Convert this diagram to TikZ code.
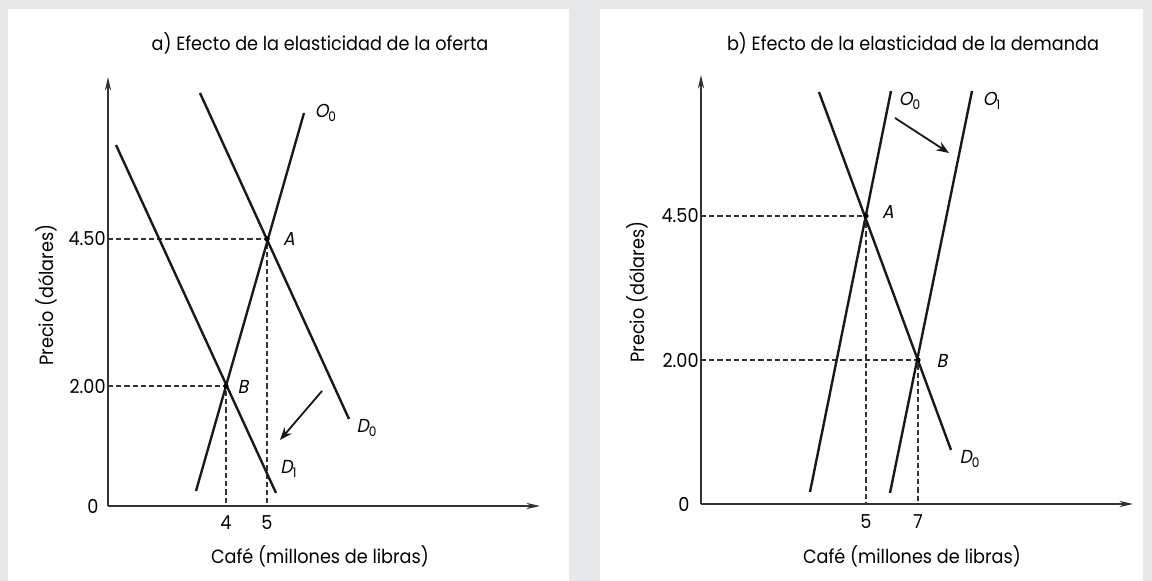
\documentclass[tikz,border=0pt]{standalone}
\usepackage{fontspec}
\setmainfont{Poppins}[AutoFakeSlant=0.2, FakeStretch=0.92]
\usepackage{xcolor}
\usetikzlibrary{arrows.meta}
\definecolor{framegray}{RGB}{230,231,232}

\begin{document}
\begin{tikzpicture}[x=0.5pt, y=-0.5pt,
  curve/.style={line width=1.2pt, black!90},
  axis/.style={line width=0.6pt, black!80, -{Stealth[length=2.4mm, width=1.1mm]}},
  guide/.style={line width=0.55pt, black!80, dash pattern=on 2.6pt off 1.5pt},
  shiftarrow/.style={line width=0.9pt, black!90, -{Stealth[length=2.2mm, width=1.7mm]}},
  dot/.style={circle, fill=black, inner sep=0pt, minimum size=2.6pt},
  ttl/.style={font=\fontsize{9.6}{11}\selectfont, inner sep=0pt},
  num/.style={font=\fontsize{9.6}{11}\selectfont, inner sep=0.5pt},
  lbl/.style={font=\fontsize{9.4}{11}\selectfont\itshape, inner sep=0pt}]

\useasboundingbox (0,0) rectangle (1152,581);
\fill[framegray] (0,0) rectangle (1152,581);
\fill[white] (8,9) rectangle (569,581);
\fill[white] (600,9) rectangle (1143,581);

% a) oferta
\node[ttl] (titlea) at (320,43) {a) Efecto de la elasticidad de la oferta};
\coordinate (oa) at (108,506);
\coordinate (ya) at (108,77);
\coordinate (xa) at (540,506);
\draw[axis] (oa) -- (ya);
\draw[axis] (oa) -- (xa);
\node[num] (zeroa) at (93,506) {0};
\node[num, anchor=east] (pa) at (107,239) {4.50};
\node[num, anchor=east] (pb) at (107,386) {2.00};
\node[ttl] (qlabela) at (320,556) {Café (millones de libras)};
\node[ttl, rotate=90] (plabela) at (46,295) {Precio (dólares)};

\coordinate (Aa) at (267,239);
\coordinate (Ba) at (226,386);
\draw[guide] (Aa -| oa) -- (Aa) -- (Aa |- oa);
\draw[guide] (Ba -| oa) -- (Ba) -- (Ba |- oa);
\node[num] (qa4) at (226,523) {4};
\node[num] (qa5) at (267,523) {5};

\coordinate (o0a1) at (196,491);
\coordinate (o0a2) at (304,113);
\coordinate (d0a1) at (200,93);
\coordinate (d0a2) at (349,419);
\coordinate (d1a1) at (116,145);
\coordinate (d1a2) at (276,493);
\draw[curve] (o0a1) -- (o0a2);
\draw[curve] (d0a1) -- (d0a2);
\draw[curve] (d1a1) -- (d1a2);
\node[dot] at (Aa) {};
\node[dot] at (Ba) {};

\node[lbl] (lO0a) at (326,113) {O\textsubscript{\upshape 0}};
\node[lbl] (lAa) at (289,239) {A};
\node[lbl] (lBa) at (243,387) {B};
\node[lbl] (lD0a) at (367,428) {D\textsubscript{\upshape 0}};
\node[lbl] (lD1a) at (289,469) {D\textsubscript{\upshape 1}};

\coordinate (sa1) at (322,391);
\coordinate (sa2) at (280,440);
\draw[shiftarrow] (sa1) -- (sa2);

% b) demanda
\node[ttl] (titleb) at (913,43) {b) Efecto de la elasticidad de la demanda};
\coordinate (ob) at (701,504);
\coordinate (yb) at (701,75);
\coordinate (xb) at (1133,504);
\draw[axis] (ob) -- (yb);
\draw[axis] (ob) -- (xb);
\node[num] (zerob) at (684,504) {0};
\node[num, anchor=east] (pc) at (700,216) {4.50};
\node[num, anchor=east] (pd) at (700,360) {2.00};
\node[ttl] (qlabelb) at (912,556) {Café (millones de libras)};
\node[ttl, rotate=90] (plabelb) at (637,292) {Precio (dólares)};

\coordinate (Ab) at (866,216);
\coordinate (Bb) at (918,360);
\draw[guide] (Ab -| ob) -- (Ab) -- (Ab |- ob);
\draw[guide] (Bb -| ob) -- (Bb) -- (Bb |- ob);
\node[num] (qb5) at (866,522) {5};
\node[num] (qb7) at (918,522) {7};

\coordinate (o0b1) at (810,492);
\coordinate (o0b2) at (891,91);
\coordinate (o1b1) at (890,493);
\coordinate (o1b2) at (972,91);
\coordinate (d0b1) at (819,92);
\coordinate (d0b2) at (951,450);
\draw[curve] (o0b1) -- (o0b2);
\draw[curve] (o1b1) -- (o1b2);
\draw[curve] (d0b1) -- (d0b2);
\node[dot] at (Ab) {};
\node[dot] at (Bb) {};

\node[lbl] (lO0b) at (910,101) {O\textsubscript{\upshape 0}};
\node[lbl] (lO1b) at (992,101) {O\textsubscript{\upshape 1}};
\node[lbl] (lAb) at (888,212) {A};
\node[lbl] (lBb) at (942,361) {B};
\node[lbl] (lD0b) at (970,459) {D\textsubscript{\upshape 0}};

\coordinate (sb1) at (895,118);
\coordinate (sb2) at (949,153);
\draw[shiftarrow] (sb1) -- (sb2);
\end{tikzpicture}
\end{document}
